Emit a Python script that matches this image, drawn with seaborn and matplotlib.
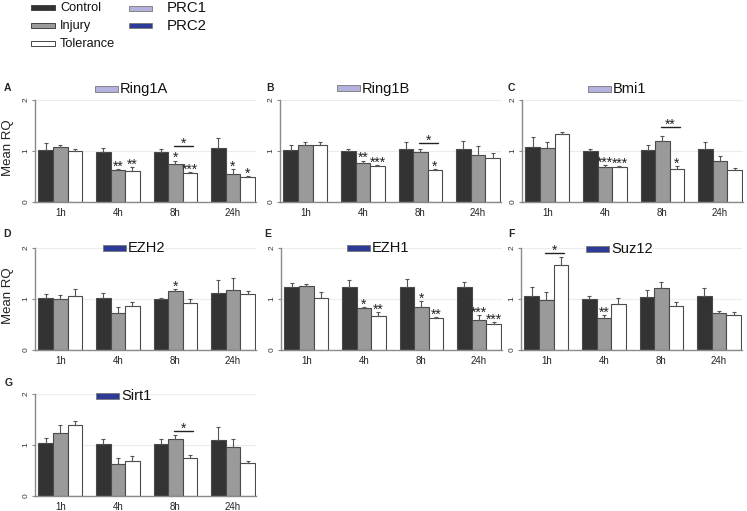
import numpy as np
import pandas as pd
import matplotlib.pyplot as plt
import seaborn as sns
from matplotlib.patches import Rectangle

# === data ===
TIMES = ["1h", "4h", "8h", "24h"]
GROUPS = ["Control", "Injury", "Tolerance"]

ring1a_mean = [[1.02, 0.99, 0.99, 1.05], [1.07, 0.63, 0.74, 0.55], [1.00, 0.60, 0.56, 0.49]]
ring1a_sem = [[0.13, 0.06, 0.05, 0.20], [0.05, 0.01, 0.07, 0.10], [0.04, 0.08, 0.025, 0.02]]
ring1b_mean = [[1.01, 1.00, 1.03, 1.03], [1.11, 0.76, 0.98, 0.93], [1.11, 0.70, 0.63, 0.86]]
ring1b_sem = [[0.11, 0.03, 0.14, 0.16], [0.06, 0.05, 0.06, 0.17], [0.06, 0.03, 0.02, 0.10]]
bmi1_mean = [[1.07, 1.00, 1.02, 1.03], [1.06, 0.68, 1.19, 0.81], [1.33, 0.68, 0.645, 0.62]]
bmi1_sem = [[0.20, 0.04, 0.10, 0.14], [0.11, 0.04, 0.11, 0.10], [0.05, 0.02, 0.055, 0.04]]
ezh2_mean = [[1.02, 1.02, 1.00, 1.12], [1.00, 0.72, 1.16, 1.18], [1.06, 0.87, 0.93, 1.09]]
ezh2_sem = [[0.07, 0.09, 0.02, 0.25], [0.07, 0.12, 0.03, 0.23], [0.13, 0.07, 0.07, 0.07]]
ezh1_mean = [[1.23, 1.24, 1.24, 1.23], [1.25, 0.82, 0.85, 0.59], [1.01, 0.67, 0.62, 0.51]]
ezh1_sem = [[0.09, 0.13, 0.15, 0.10], [0.05, 0.02, 0.11, 0.09], [0.12, 0.07, 0.02, 0.04]]
suz12_mean = [[1.05, 1.00, 1.04, 1.05], [0.98, 0.62, 1.21, 0.72], [1.67, 0.90, 0.86, 0.68]]
suz12_sem = [[0.18, 0.05, 0.13, 0.17], [0.16, 0.06, 0.13, 0.04], [0.15, 0.12, 0.08, 0.06]]
sirt1_mean = [[1.03, 1.02, 1.02, 1.10], [1.24, 0.63, 1.11, 0.97], [1.39, 0.68, 0.74, 0.65]]
sirt1_sem = [[0.11, 0.09, 0.09, 0.26], [0.16, 0.11, 0.09, 0.14], [0.09, 0.10, 0.06, 0.04]]

# stars: (time idx, group idx, text); brackets: (time idx, y, text) injury vs tolerance
ring1a_stars = [(1, 1, "**"), (1, 2, "**"), (2, 1, "*"), (2, 2, "***"), (3, 1, "*"), (3, 2, "*")]
ring1b_stars = [(1, 1, "**"), (1, 2, "***"), (2, 2, "*")]
bmi1_stars = [(1, 1, "***"), (1, 2, "***"), (2, 2, "*")]
ezh2_stars = [(2, 1, "*")]
ezh1_stars = [(1, 1, "*"), (1, 2, "**"), (2, 1, "*"), (2, 2, "**"), (3, 1, "***"), (3, 2, "***")]
suz12_stars = [(1, 1, "**")]
sirt1_stars = []

ring1a_brackets = [(2, 1.10, "*")]
ring1b_brackets = [(2, 1.15, "*")]
bmi1_brackets = [(2, 1.47, "**")]
suz12_brackets = [(0, 1.90, "*")]
sirt1_brackets = [(2, 1.27, "*")]

# === style ===
W, H = 747, 511
BAR_COLORS = ["#333333", "#9a9a9a", "#ffffff"]
PRC1 = "#b3b1dd"
PRC2 = "#2d3a96"
AXIS_GRAY = "#8a8a8a"

sns.set_style("white")
plt.rcParams["font.family"] = ["Liberation Sans", "DejaVu Sans"]

fig = plt.figure(figsize=(W / 100, H / 100), dpi=100)


def px(x, y):
    return x / W, 1 - y / H


# panel: (label, gene, colour, mean, sem, stars, brackets, axis-left px, y0 px, label pos, gene pos, ylabel)
panels = [
    ("A", "Ring1A", PRC1, ring1a_mean, ring1a_sem, ring1a_stars, ring1a_brackets, 35, 202, (7, 88), (95, 89), True),
    ("B", "Ring1B", PRC1, ring1b_mean, ring1b_sem, ring1b_stars, ring1b_brackets, 280, 202, (270, 88), (337, 88.5), False),
    ("C", "Bmi1", PRC1, bmi1_mean, bmi1_sem, bmi1_stars, bmi1_brackets, 522, 202, (511, 88), (588, 89), False),
    ("D", "EZH2", PRC2, ezh2_mean, ezh2_sem, ezh2_stars, [], 35, 350, (7, 234), (103, 248.5), True),
    ("E", "EZH1", PRC2, ezh1_mean, ezh1_sem, ezh1_stars, [], 281, 350, (268, 234), (347, 248.5), False),
    ("F", "Suz12", PRC2, suz12_mean, suz12_sem, suz12_stars, suz12_brackets, 521, 350, (511, 234), (586, 249), False),
    ("G", "Sirt1", PRC2, sirt1_mean, sirt1_sem, sirt1_stars, sirt1_brackets, 35, 496, (9, 383), (96, 395.5), False),
]

AX_W = 221
AX_H = 102
STAR_DROP = 0.03  # baseline sits a bit below the errorbar top, glyph floats above it

for lab, gene, gcol, mean, sem, stars, brackets, axl, y0, lpos, gpos, ylab in panels:
    l, b = px(axl, y0)
    ax = fig.add_axes([l, b, AX_W / W, AX_H / H])
    df = pd.DataFrame({
        "time": np.tile(TIMES, 3),
        "group": np.repeat(GROUPS, 4),
        "value": np.ravel(mean),
    })
    sns.barplot(data=df, x="time", y="value", hue="group", order=TIMES, hue_order=GROUPS,
                palette=BAR_COLORS, width=0.76, errorbar=None, edgecolor="#4a4a4a",
                linewidth=0.8, legend=False, ax=ax)

    bar_conts = list(ax.containers)
    centers = []
    tops = []
    for gi, cont in enumerate(bar_conts):
        xs = [p.get_x() + p.get_width() / 2 for p in cont.patches]
        hs = np.array(mean[gi])
        es = np.array(sem[gi])
        ax.errorbar(xs, hs, yerr=[np.zeros(4), es], fmt="none", ecolor="#555555",
                    elinewidth=0.8, capsize=1.5, capthick=0.8, zorder=1)
        centers.append(xs)
        tops.append(hs + es)

    for ti, gi, txt in stars:
        ax.text(centers[gi][ti], tops[gi][ti] - STAR_DROP, txt, ha="center", va="baseline",
                fontsize=10, color="#222222")

    for ti, yb, txt in brackets:
        x1 = centers[1][ti] - 0.02
        x2 = centers[2][ti] + 0.05
        ax.plot([x1, x2], [yb, yb], color="#222222", lw=1.0)
        ax.text((x1 + x2) / 2, yb - STAR_DROP, txt, ha="center", va="baseline",
                fontsize=10, color="#222222")

    ax.set_xlim(-0.44, 3.40)
    ax.set_ylim(0, 2)
    ax.set_yticks([0, 1, 2])
    ax.set_yticklabels(["0", "1", "2"], rotation=90, va="center", fontsize=6, color="#333333")
    for yv in (1, 2):
        ax.axhline(yv, color="#ececec", lw=0.8, zorder=0)
    ax.tick_params(axis="y", length=2.5, width=0.8, color=AXIS_GRAY, pad=1.5, left=True)
    ax.tick_params(axis="x", length=0, pad=4, labelsize=7, labelcolor="#222222")
    for side in ("top", "right"):
        ax.spines[side].set_visible(False)
    for side in ("left", "bottom"):
        ax.spines[side].set_color(AXIS_GRAY)
        ax.spines[side].set_linewidth(1.0)
    ax.set_xlabel("")
    if ylab:
        ax.set_ylabel("Mean RQ", fontsize=9.5, color="#222222")
        ax.yaxis.set_label_coords(-21 / AX_W, 0.535)
    else:
        ax.set_ylabel("")

    fx, fy = px(*lpos)
    fig.text(fx, fy, lab, fontsize=7.5, fontweight="bold", ha="center", va="center")
    gx, gy = px(*gpos)
    fig.add_artist(Rectangle((gx, gy - 3 / H), 23 / W, 6 / H, transform=fig.transFigure,
                             facecolor=gcol, edgecolor="#777777", lw=0.6))
    fig.text(gx + 25 / W, gy, gene, fontsize=10.5, ha="left", va="center", color="#111111")

# === top legend ===
legend_items = [("Control", BAR_COLORS[0], 8), ("Injury", BAR_COLORS[1], 26), ("Tolerance", BAR_COLORS[2], 44)]
for name, col, yy in legend_items:
    x, y = px(31, yy)
    fig.add_artist(Rectangle((x, y - 2.5 / H), 24 / W, 5 / H, transform=fig.transFigure,
                             facecolor=col, edgecolor="#444444", lw=0.7))
    fig.text(60 / W, y, name, fontsize=9.2, ha="left", va="center", color="#111111")

prc_items = [("PRC1", PRC1, 8.5), ("PRC2", PRC2, 25.5)]
for name, col, yy in prc_items:
    x, y = px(129, yy)
    fig.add_artist(Rectangle((x, y - 2.5 / H), 23 / W, 5 / H, transform=fig.transFigure,
                             facecolor=col, edgecolor="#777777", lw=0.6))
    fig.text(167 / W, y, name, fontsize=10.8, ha="left", va="center", color="#111111")

fig.savefig("out.png", dpi=100)
